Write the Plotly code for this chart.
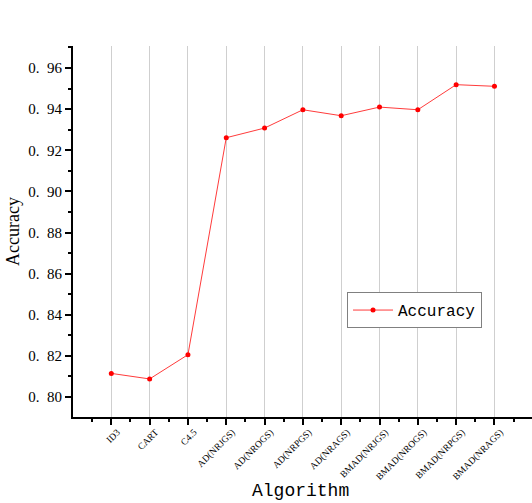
import plotly.graph_objects as go

categories = ["ID3", "CART", "C4.5", "AD(NRJGS)", "AD(NROGS)", "AD(NRPGS)", "AD(NRAGS)",
              "BMAD(NRJGS)", "BMAD(NROGS)", "BMAD(NRPGS)", "BMAD(NRAGS)"]
accuracy = [0.8115, 0.8088, 0.8206, 0.9261, 0.9308, 0.9397, 0.9368, 0.9410, 0.9397, 0.9519, 0.9511]
y_ticks = [0.80, 0.82, 0.84, 0.86, 0.88, 0.90, 0.92, 0.94, 0.96]
y_ticktext = ["0.\u200280", "0.\u200282", "0.\u200284", "0.\u200286", "0.\u200288",
              "0.\u200290", "0.\u200292", "0.\u200294", "0.\u200296"]

xpos = list(range(1, len(categories) + 1))
serif = "Liberation Serif, DejaVu Serif, serif"

fig = go.Figure()
fig.add_trace(go.Scatter(
    x=xpos, y=accuracy, mode="lines+markers", name="Accuracy",
    line=dict(color="#ff3b3b", width=1),
    marker=dict(color="#ff0000", size=5),
))

fig.update_layout(
    width=532, height=503,
    margin=dict(l=73, r=0, t=46, b=86, autoexpand=False),
    paper_bgcolor="white", plot_bgcolor="white",
    font=dict(family=serif, color="black"),
    showlegend=True,
    legend=dict(x=0.597, y=0.288, xanchor="left", yanchor="middle",
                bordercolor="#808080", borderwidth=1, bgcolor="white",
                font=dict(size=16, family="Liberation Mono, DejaVu Sans Mono, monospace"),
                itemwidth=40, tracegroupgap=0),
    xaxis=dict(
        range=[0, 11.98], tickmode="array", tickvals=xpos, ticktext=categories,
        tickangle=-45, tickfont=dict(size=9.5, family=serif), ticklabelshift=6,
        ticklabelstandoff=-2,
        showgrid=True, gridcolor="#cfcfcf", gridwidth=1,
        showline=True, linecolor="black", linewidth=2,
        ticks="outside", ticklen=6, tickwidth=2, tickcolor="black",
        minor=dict(tickvals=[i + 0.5 for i in range(0, 12)], ticks="outside",
                   ticklen=3, tickwidth=1.5, tickcolor="black", showgrid=False),
        zeroline=False, automargin=False,
    ),
    yaxis=dict(
        range=[0.7903, 0.9707], tickmode="array", tickvals=y_ticks, ticktext=y_ticktext,
        tickfont=dict(size=15, family=serif),
        showgrid=False,
        showline=True, linecolor="black", linewidth=2,
        ticks="outside", ticklen=6, tickwidth=2, tickcolor="black",
        minor=dict(tickvals=[0.79, 0.81, 0.83, 0.85, 0.87, 0.89, 0.91, 0.93, 0.95, 0.97],
                   ticks="outside", ticklen=3, tickwidth=1.5, tickcolor="black", showgrid=False),
        title=dict(text="Accuracy", font=dict(size=18, family=serif), standoff=4),
        zeroline=False, automargin=False,
    ),
    annotations=[dict(text="Algorithm", xref="paper", yref="paper", x=0.4946, y=-0.199,
                      xanchor="center", yanchor="middle", showarrow=False,
                      font=dict(size=18, family="Liberation Mono, monospace", color="black"))],
)

fig.write_html("out.html")
